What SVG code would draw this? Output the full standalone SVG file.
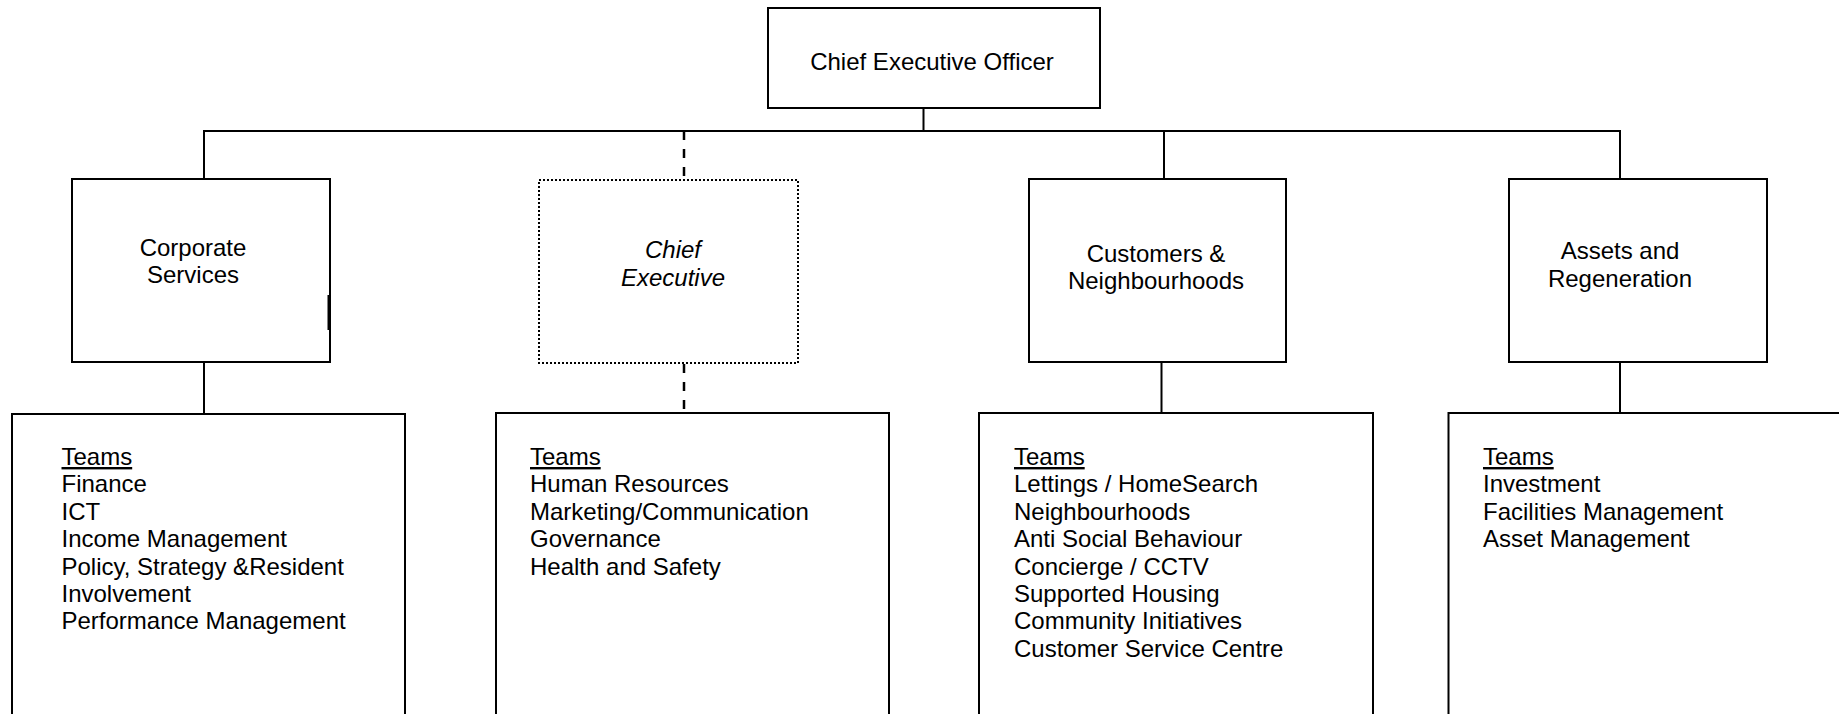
<svg xmlns="http://www.w3.org/2000/svg" width="1839" height="714" viewBox="0 0 1839 714">
  <style>
    .box { fill: #ffffff; stroke: #000000; stroke-width: 2; }
    .dotted { fill: #ffffff; stroke: #000000; stroke-width: 2; stroke-dasharray: 2 2; }
    .link { fill: none; stroke: #000000; stroke-width: 2; }
    .dashed { fill: none; stroke: #000000; stroke-width: 2.5; stroke-dasharray: 9 9; }
    text { font-family: "Liberation Sans", Arial, sans-serif; font-size: 24px; fill: #000000; }
    .c { text-anchor: middle; }
    .it { font-style: italic; }
    .hd { text-decoration: underline; }
  </style>
  <rect width="1839" height="714" fill="#ffffff"/>

  <!-- connectors -->
  <g id="connectors">
    <line class="link" x1="923.5" y1="108" x2="923.5" y2="131"/>
    <line class="link" x1="203" y1="131" x2="1620" y2="131"/>
    <line class="link" x1="204" y1="131" x2="204" y2="179"/>
    <line class="dashed" x1="684" y1="131" x2="684" y2="180"/>
    <line class="link" x1="1164" y1="131" x2="1164" y2="179"/>
    <line class="link" x1="1620" y1="130" x2="1620" y2="179"/>
    <line class="link" x1="204" y1="362" x2="204" y2="414"/>
    <line class="dashed" x1="684" y1="364" x2="684" y2="413"/>
    <line class="link" x1="1161.5" y1="362" x2="1161.5" y2="413"/>
    <line class="link" x1="1620" y1="362" x2="1620" y2="413"/>
  </g>

  <!-- top level -->
  <g id="ceo">
    <rect class="box" x="768" y="8" width="332" height="100"/>
    <text class="c" x="932" y="70">Chief Executive Officer</text>
  </g>

  <!-- directorates -->
  <g id="corporate-services">
    <rect class="box" x="72" y="179" width="258" height="183"/>
    <line x1="328.5" y1="295" x2="328.5" y2="330" stroke="#000000" stroke-width="2"/>
    <text class="c" x="193" y="256">Corporate</text>
    <text class="c" x="193" y="283">Services</text>
  </g>

  <g id="chief-executive">
    <rect class="dotted" x="539" y="180" width="259" height="183"/>
    <text class="c it" x="673" y="258">Chief</text>
    <text class="c it" x="673" y="286">Executive</text>
  </g>

  <g id="customers-neighbourhoods">
    <rect class="box" x="1029" y="179" width="257" height="183"/>
    <text class="c" x="1156" y="262">Customers &amp;</text>
    <text class="c" x="1156" y="289">Neighbourhoods</text>
  </g>

  <g id="assets-regeneration">
    <rect class="box" x="1509" y="179" width="258" height="183"/>
    <text class="c" x="1620" y="259">Assets and</text>
    <text class="c" x="1620" y="287">Regeneration</text>
  </g>

  <!-- team lists -->
  <g id="corporate-teams">
    <rect class="box" x="12" y="414" width="393" height="320"/>
    <text x="61.5" y="465" class="hd">Teams</text>
    <text x="61.5" y="492.4">Finance</text>
    <text x="61.5" y="519.8">ICT</text>
    <text x="61.5" y="547.2">Income Management</text>
    <text x="61.5" y="574.6">Policy, Strategy &amp;Resident</text>
    <text x="61.5" y="602">Involvement</text>
    <text x="61.5" y="629.4">Performance Management</text>
  </g>

  <g id="chief-executive-teams">
    <rect class="box" x="496" y="413" width="393" height="320"/>
    <text x="530" y="465" class="hd">Teams</text>
    <text x="530" y="492.4">Human Resources</text>
    <text x="530" y="519.8">Marketing/Communication</text>
    <text x="530" y="547.2">Governance</text>
    <text x="530" y="574.6">Health and Safety</text>
  </g>

  <g id="customers-teams">
    <rect class="box" x="979" y="413" width="394" height="320"/>
    <text x="1014" y="465" class="hd">Teams</text>
    <text x="1014" y="492.4">Lettings / HomeSearch</text>
    <text x="1014" y="519.8">Neighbourhoods</text>
    <text x="1014" y="547.2">Anti Social Behaviour</text>
    <text x="1014" y="574.6">Concierge / CCTV</text>
    <text x="1014" y="602">Supported Housing</text>
    <text x="1014" y="629.4">Community Initiatives</text>
    <text x="1014" y="656.8">Customer Service Centre</text>
  </g>

  <g id="assets-teams">
    <rect class="box" x="1448.5" y="413" width="420" height="320"/>
    <text x="1483" y="465" class="hd">Teams</text>
    <text x="1483" y="492.4">Investment</text>
    <text x="1483" y="519.8">Facilities Management</text>
    <text x="1483" y="547.2">Asset Management</text>
  </g>
</svg>
